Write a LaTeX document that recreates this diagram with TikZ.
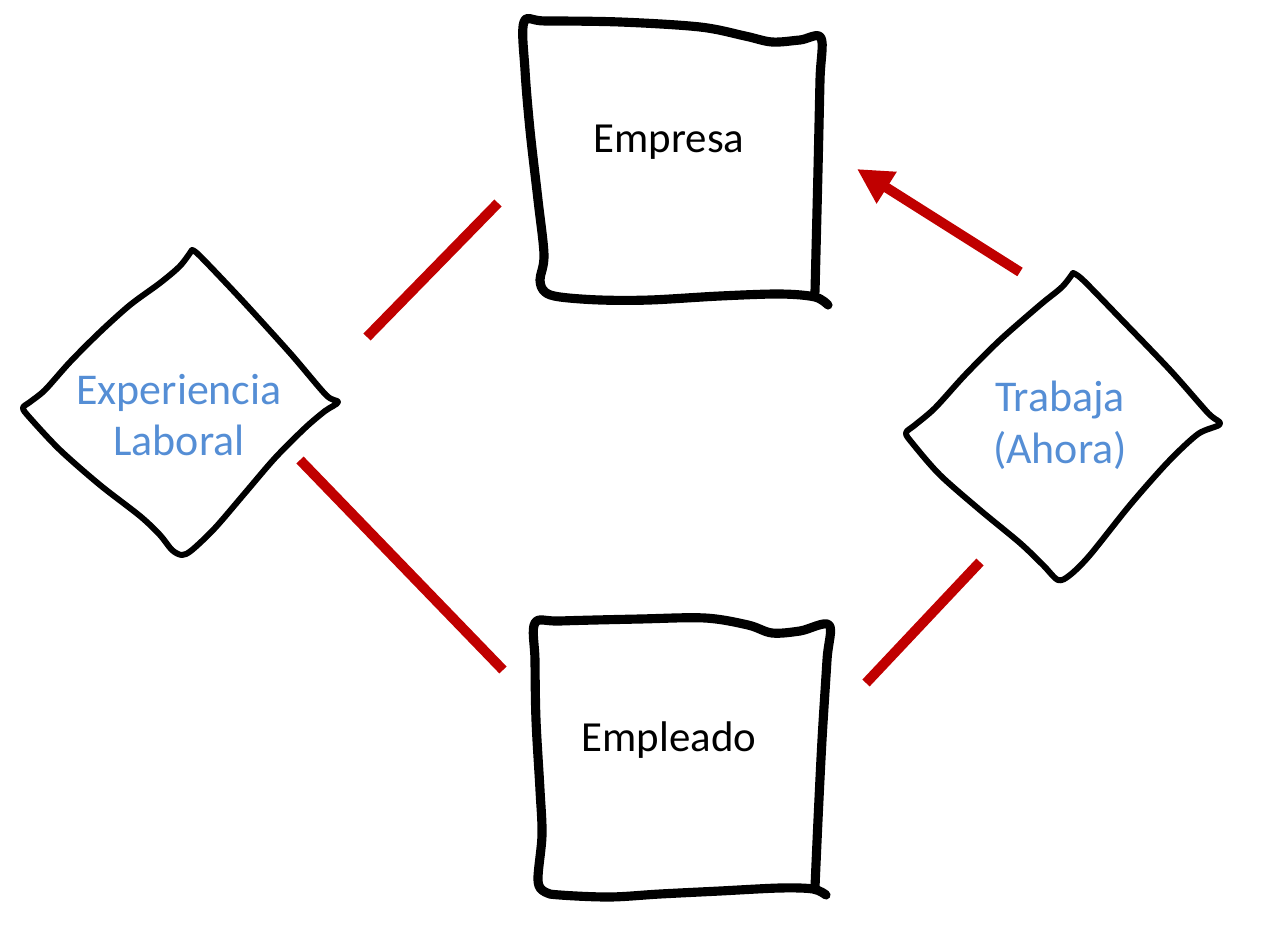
\documentclass[tikz,border=0pt]{standalone}
\usepackage{fontspec}
\setmainfont{Carlito}
\usetikzlibrary{arrows.meta}
\definecolor{relred}{RGB}{192,0,0}
\definecolor{relblue}{RGB}{85,142,213}
\tikzset{
  entbox/.style={line width=5.2pt, line join=round, line cap=round, black},
  relshape/.style={line width=3.4pt, line join=round, line cap=round, black},
  entlabel/.style={font=\fontsize{24.4}{29.5}\selectfont, text=black, align=center, inner sep=0pt},
  rellabel/.style={font=\fontsize{25}{29.5}\selectfont, text=relblue, align=center, inner sep=0pt},
  link/.style={line width=5.7pt, relred},
  linkarrow/.style={line width=5.7pt, relred, -{Triangle[length=20pt,width=20pt]}}
}
\begin{document}
\begin{tikzpicture}[x=0.02cm,y=-0.02cm]
\useasboundingbox (0,0) rectangle (1262,926);

% Empresa box
\draw[entbox] plot[smooth, tension=0.55] coordinates {
  (828,305) (815,297) (780,294) (720,296) (650,300) (600,300) (560,297) (545,292)
  (540,280) (544,255) (538,200) (530,130) (525,70) (524,22)
  (545,21) (620,22) (700,27) (745,36) (772,42) (800,40) (821,38)
  (820,80) (818,170) (815,292)};
% Empleado box
\draw[entbox] plot[smooth, tension=0.55] coordinates {
  (826,895) (813,889) (780,888) (720,891) (660,894) (610,897) (560,895) (545,892)
  (538,880) (542,835) (540,790) (536,720) (535,660) (535,623)
  (560,621) (640,619) (705,618) (748,625) (772,633) (800,631) (829,625)
  (827,660) (822,740) (818,820) (815,887)};

% Experiencia Laboral diamond
\draw[relshape] plot[smooth, tension=0.5] coordinates {
  (192,250) (180,266) (160,283) (130,305) (100,332) (70,362) (45,390) (30,402) (23,408)
  (30,418) (60,450) (100,485) (140,516) (160,535) (172,550) (182,555)
  (192,550) (215,528) (245,493) (275,458) (305,428) (325,411) (338,402)
  (326,395) (290,353) (240,298) (200,256) (192,250)};
% Trabaja (Ahora) diamond
\draw[relshape] plot[smooth, tension=0.5] coordinates {
  (1073,273) (1062,287) (1040,305) (1000,340) (965,375) (935,408) (915,425) (906,433)
  (913,444) (940,475) (980,510) (1020,543) (1043,565) (1058,580)
  (1070,575) (1090,555) (1130,505) (1168,462) (1198,434) (1220,424)
  (1208,413) (1170,370) (1120,318) (1083,280) (1073,273)};

% labels
\node[entlabel] (empresa) at (669,142) {Empresa};
\node[entlabel] (empleado) at (669,740) {Empleado};
\node[rellabel] (explab) at (179,415) {Experiencia\\Laboral};
\node[rellabel] (trabaja) at (1060,425) {Trabaja\\(Ahora)};

% connector end points
\coordinate (a1) at (367,337);
\coordinate (a2) at (498,203);
\coordinate (b1) at (300,460);
\coordinate (b2) at (503,670);
\coordinate (c1) at (980,562);
\coordinate (c2) at (866,683);
\coordinate (d1) at (1020,272);
\coordinate (d2) at (857,169);

\draw[link] (a1) -- (a2);
\draw[link] (b1) -- (b2);
\draw[link] (c1) -- (c2);
\draw[linkarrow] (d1) -- (d2);
\end{tikzpicture}
\end{document}
